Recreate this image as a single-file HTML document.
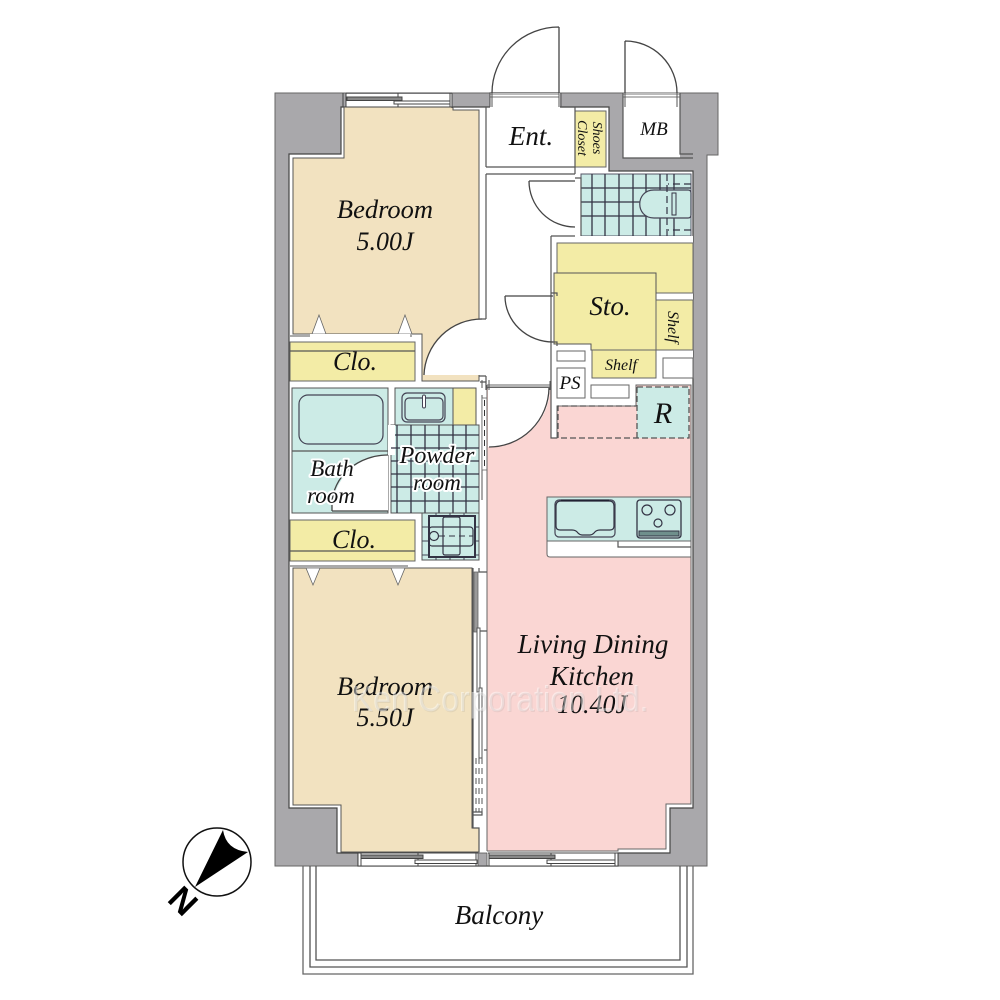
<!DOCTYPE html>
<html><head><meta charset="utf-8"><style>
html,body{margin:0;padding:0;background:#fff}
svg{display:block}
text{font-family:"Liberation Serif",serif;font-style:italic;fill:#111;text-anchor:middle}
.l{fill:none;stroke:#555;stroke-width:1.2}
.d{fill:none;stroke:#444;stroke-width:1.3}
.g{stroke:#334;stroke-width:1.3;fill:none}
.h{paint-order:stroke;stroke:#fff;stroke-width:4px;stroke-linejoin:round}
</style></head><body>
<svg width="1000" height="1000" viewBox="0 0 1000 1000" xmlns="http://www.w3.org/2000/svg">
<rect width="1000" height="1000" fill="#fff"/>

<!-- outer wall -->
<path d="M275 93H718V155H707V866H275Z" fill="#a9a8ab" stroke="#666" stroke-width="1"/>
<!-- interior white base -->
<path d="M289 154H341V107H490V93H559V107H609V171H693V808H670V853H618V866H358V853H337V808H289Z" fill="#fff" stroke="#444" stroke-width="1.2"/>
<!-- openings -->
<rect x="490" y="93" width="70" height="15" fill="#fff"/>
<rect x="623" y="93" width="57" height="65" fill="#fff"/>
<path d="M623 93V158H693M680 93V154H693" class="l"/>
<rect x="346" y="94" width="106" height="13" fill="#fff"/>
<rect x="358" y="853" width="120" height="13" fill="#fff"/>
<rect x="488" y="853" width="130" height="13" fill="#fff"/>

<!-- rooms -->
<path d="M293 158H344V107H453V110H479V381H422V334H293Z" fill="#f2e2c0" stroke="#555" stroke-width="1"/>
<path d="M293 568H472V828H479V852H341V805H293Z" fill="#f2e2c0" stroke="#555" stroke-width="1"/>
<path d="M487 388H551V438H557V406H636V385H691V804H666V849H618V851H487Z" fill="#fad6d3" stroke="#666" stroke-width="1"/>

<!-- bedroom door -->
<path d="M486 319H480A58 58 0 0 0 424 375H486Z" fill="#fff"/>
<path d="M482 319A58 58 0 0 0 424 375" class="d"/>
<path d="M479 319H486M479 376H486" class="l"/>

<!-- closets -->
<rect x="290" y="342" width="125" height="39" fill="#f3eca6" stroke="#666"/>
<path d="M290 351H415" class="l"/>
<path d="M290 336H412M290 566H408" stroke="#555" stroke-width="1" fill="none"/>
<rect x="290" y="520" width="125" height="41" fill="#f3eca6" stroke="#666"/>
<path d="M290 551H415" class="l"/>
<g fill="#fff" stroke="#666" stroke-width=".8">
<path d="M319 315L312 334H326Z"/><path d="M405 315L398 334H412Z"/>
<path d="M313 585L306 568H320Z"/><path d="M398 585L391 568H405Z"/>
</g>
<rect x="310" y="334" width="100" height="3" fill="#fff"/>

<!-- bathroom -->
<rect x="292" y="388" width="96" height="125" fill="#ccebe6" stroke="#555"/>
<path d="M292 451H388" class="l"/>
<rect x="299" y="395" width="84" height="49" rx="9" fill="#ccebe6" stroke="#445" stroke-width="1.2"/>
<path d="M332 510A56 56 0 0 1 388 455V511H332Z" fill="#fff"/>
<path d="M332 511V503A56 50 0 0 1 388 455M332 511H388" class="d"/>

<!-- powder -->
<rect x="395" y="388" width="58" height="37" fill="#ccebe6" stroke="#555"/>
<rect x="453" y="388" width="23" height="37" fill="#f3eca6" stroke="#555"/>
<rect x="402" y="393" width="43" height="29" rx="5" fill="none" stroke="#445" stroke-width="1.2"/>
<rect x="405" y="398" width="38" height="22" rx="4" fill="none" stroke="#445" stroke-width="1.2"/>
<rect x="422.500" y="395" width="3" height="13" rx="1.500" fill="#fff" stroke="#445"/>
<rect x="391" y="425" width="88" height="88" fill="#ccebe6" stroke="#555"/>
<rect x="388" y="425" width="7" height="30" fill="#fff"/>
<path d="M397 425V513M411 425V513M425 425V513M439 425V513M453 425V513M466 425V513M395 435H479M391 448H479M391 461H479M391 474H479M391 487H479M391 501H479" class="g"/>

<!-- washer -->
<rect x="422" y="513" width="57" height="47" fill="#ccebe6" stroke="#555"/>
<path d="M436 513V560M450 513V560M464 513V560M422 527H479M422 541H479M422 555H479" stroke="#445" stroke-width="1"/>
<rect x="429" y="516" width="46" height="41" fill="#ccebe6" stroke="#334" stroke-width="2"/>
<rect x="443" y="517" width="17" height="38" rx="2" fill="none" stroke="#334" stroke-width="1.200"/>
<rect x="429" y="527" width="44" height="19" rx="3" fill="none" stroke="#334" stroke-width="1.200"/>
<circle cx="434" cy="536" r="4.500" fill="none" stroke="#334" stroke-width="1.200"/>
<path d="M439 536H473" stroke="#334" stroke-dasharray="6 4"/>

<!-- sliding door strip by powder -->
<path d="M482 380V388M482 395V500" stroke="#555" stroke-width="1"/>
<rect x="482" y="398" width="5" height="72" fill="#fff" stroke="#666" stroke-width=".8"/>
<path d="M484.500 400V470" stroke="#333" stroke-dasharray="6 4"/>
<path d="M480 382H486V390" class="l"/>
<path d="M486 174V319M486 376V382M486 107V167M486 167H575M486 174H575" class="l"/>

<!-- Ent doors -->
<path d="M559 27A67 66 0 0 0 492 93M559 27V93" class="d"/>
<path d="M625 41A52 52 0 0 1 677 93M625 41V93" class="d"/>
<path d="M490 94H559M490 97H559M623 94H680M623 97H680" stroke="#777" stroke-width="1"/>
<path d="M490 93V107M492 93V107M559 93V107M561 107V93M623 93V107M625 93V107M677 93V107M680 93V107" stroke="#555" stroke-width="1"/>

<!-- shoes closet -->
<rect x="575" y="111" width="31" height="56" fill="#f3eca6" stroke="#666"/>
<path d="M561 107H575V174" class="l"/>

<!-- toilet -->
<rect x="581" y="174" width="110" height="62" fill="#ccebe6" stroke="#556"/>
<path d="M592 174V236M605 174V236M619 174V236M633 174V236M646 174V236M660 174V236M674 174V236M581 188H691M581 202H691M581 216H691" class="g"/>
<path d="M654 190H688Q691 190 691 193V215Q691 218 688 218H654C635 218 635 190 654 190Z" fill="#ccebe6" stroke="#445" stroke-width="1.200"/>
<path d="M667 174V236M691 184H668M691 230H668" stroke="#334" stroke-width="1.200" stroke-dasharray="7 4" fill="none"/>
<rect x="672" y="193" width="4" height="22" fill="#ccebe6" stroke="#334"/>
<path d="M575 178H581V238H575" class="l"/>
<path d="M529 181H575M529 181A46 46 0 0 0 575 227" class="d"/>

<!-- storage -->
<path d="M551 236H693V367H551Z" fill="#fff"/>
<path d="M551 236V438H557" class="l"/>
<path d="M551 236H575" class="l"/>
<path d="M557 243H693V293H656V273H557Z" fill="#f3eca6" stroke="#666"/>
<path d="M554 273H656V350H591V344H554Z" fill="#f3eca6" stroke="#555"/>
<path d="M656 300H693V350H656Z" fill="#f3eca6" stroke="#666"/>
<path d="M592 350H656V378H592Z" fill="#f3eca6" stroke="#666"/>
<path d="M505 296H553M505 296A48 46 0 0 0 553 342" class="d"/>
<path d="M551 293H557V296M551 342H557V346" class="l"/>

<!-- utility boxes -->
<g fill="#fff" stroke="#666">
<rect x="557" y="351" width="28" height="10"/>
<rect x="557" y="368" width="28" height="30"/>
<rect x="591" y="385" width="38" height="13"/>
<rect x="663" y="358" width="30" height="20"/>
</g>

<!-- R and dashed -->
<rect x="637" y="387" width="52" height="51" fill="#ccebe6"/>
<path d="M637 387H689V438H558V406H636" fill="none" stroke="#555" stroke-width="1.300" stroke-dasharray="6 3"/>
<path d="M637 387V438" stroke="#555" stroke-width="1.300" stroke-dasharray="6 3"/>

<!-- LDK door -->
<path d="M488 388H550V390A60 60 0 0 1 490 447H488Z" fill="#fff"/>
<path d="M487 385H550M487 387H550" stroke="#666" stroke-width="1"/>
<path d="M549 388A60 60 0 0 1 489 447" class="d"/>
<path d="M489 380V390M550 381V390M487 385V450" stroke="#555" stroke-width="1"/>

<!-- kitchen -->
<path d="M547 541H691V557H550Q547 557 547 554Z" fill="#fff" stroke="#666"/>
<path d="M618 541V547H691" class="l"/>
<rect x="547" y="497" width="144" height="44" fill="#ccebe6" stroke="#666"/>
<rect x="555" y="500" width="60" height="37" rx="4" fill="#ccebe6" stroke="#445" stroke-width="1.200"/>
<path d="M561 501H609Q614 501 614 506V526Q614 530 610 530H600Q596 530 594 533Q592 535 590 535H582Q580 535 578 533Q576 530 572 530H560Q556 530 556 526V506Q556 501 561 501Z" fill="none" stroke="#334" stroke-width="1.200"/>
<path d="M561 500.500H609" stroke="#223" stroke-width="2"/>
<rect x="637" y="500" width="44" height="38" rx="3" fill="#ccebe6" stroke="#334" stroke-width="1.300"/>
<circle cx="647" cy="510" r="5" fill="none" stroke="#334" stroke-width="1.200"/>
<circle cx="670" cy="510" r="5" fill="none" stroke="#334" stroke-width="1.200"/>
<circle cx="658" cy="523" r="4" fill="none" stroke="#334" stroke-width="1.200"/>
<rect x="639" y="531" width="40" height="5" fill="#6f8f8c" stroke="#334"/>

<!-- sliding partition between bedroom 2 and LDK -->
<rect x="473" y="568" width="14" height="260" fill="#fff"/>
<rect x="480" y="828" width="7" height="24" fill="#fff"/>
<path d="M487 388V851" stroke="#666" stroke-width="1"/>
<path d="M473 568V828H479V852M479 568V572H487M473 631H487" class="l"/>
<rect x="474" y="572" width="4" height="60" fill="#999" stroke="#666" stroke-width=".8"/>
<rect x="477" y="628" width="3" height="64" fill="#fff" stroke="#555" stroke-width="1"/>
<rect x="479" y="688" width="3" height="70" fill="#fff" stroke="#555" stroke-width="1"/>
<path d="M476 758V812M479 758V812M482 758V812" stroke="#555" stroke-width="1" stroke-dasharray="6 4"/>
<path d="M473 815H482V812H473" class="l"/>
<path d="M484 750H487" class="l"/>
<rect x="478" y="853" width="9" height="13" fill="#a9a8ab" stroke="#555" stroke-width=".8"/>

<!-- top window -->
<g stroke="#444" stroke-width="1">
<path d="M346 93V107M343 93V107M450 93V107M452 93V108M398 93V107" fill="none"/>
<path d="M346 93H452M346 107H452" fill="none"/>
<rect x="347" y="97" width="55" height="3.500" fill="#888"/>
<rect x="394" y="101" width="56" height="3" fill="#fff"/>
</g>
<!-- bottom windows -->
<g stroke="#444" stroke-width="1" fill="none">
<path d="M358 853V866M361 853V866M418 853V866M476 853V866M358 866H618M358 853H478M488 853H618"/>
<rect x="361" y="855" width="62" height="3.500" fill="#888"/>
<rect x="415" y="860" width="62" height="3.500" fill="#fff"/>
<path d="M489 853V866M551 853V866M615 853V866M618 853V866"/>
<rect x="489" y="855" width="66" height="3.500" fill="#888"/>
<rect x="547" y="860" width="68" height="3.500" fill="#fff"/>
</g>

<!-- balcony -->
<path d="M303 866V974H693V866" fill="none" stroke="#666" stroke-width="1.300"/>
<path d="M310 866V967H687V866" fill="none" stroke="#555" stroke-width="1.300"/>
<path d="M316 866V960H680V866" fill="none" stroke="#555" stroke-width="1.300"/>

<!-- compass -->
<circle cx="217" cy="862" r="34" fill="#fff" stroke="#111" stroke-width="1.500"/>
<path d="M195 887L223 830Q226 850 248 852Z" fill="#000"/>
<text x="0" y="0" transform="translate(183 901) rotate(45)" font-size="34" dy="11.500" style="font-family:'Liberation Sans',sans-serif;font-style:normal;font-weight:700;fill:#000">N</text>

<!-- labels -->
<text x="385" y="218" font-size="26.500">Bedroom</text>
<text x="385" y="250" font-size="26">5.00J</text>
<text x="385" y="695" font-size="26.500">Bedroom</text>
<text x="385" y="726" font-size="26">5.50J</text>
<text x="355" y="370" font-size="26">Clo.</text>
<text x="354" y="548" font-size="26">Clo.</text>
<text x="531" y="145" font-size="27">Ent.</text>
<text x="654" y="135" font-size="19">MB</text>
<text x="610" y="315" font-size="27">Sto.</text>
<text x="621" y="370" font-size="16">Shelf</text>
<text x="570" y="389" font-size="19">PS</text>
<text x="663" y="423" font-size="30">R</text>
<text transform="translate(668 327) rotate(90)" font-size="16">Shelf</text>
<text transform="translate(593 138) rotate(90)" font-size="14">Shoes</text>
<text transform="translate(578 138) rotate(90)" font-size="14">Closet</text>
<text x="332" y="476" font-size="23" class="h">Bath</text>
<text x="331" y="503" font-size="23" class="h">room</text>
<text x="437" y="463" font-size="24" class="h">Powder</text>
<text x="437" y="490" font-size="23" class="h">room</text>
<text x="593" y="653" font-size="27">Living Dining</text>
<text x="592" y="685" font-size="27">Kitchen</text>
<text x="592" y="713" font-size="26">10.40J</text>
<text x="499" y="924" font-size="27">Balcony</text>

<!-- watermark -->
<text x="500" y="711" font-size="36" textLength="297" lengthAdjust="spacingAndGlyphs" style="font-family:'Liberation Sans',sans-serif;font-style:normal;fill:#fff;opacity:.45">Ken Corporation Ltd.</text>
<text x="501" y="712" font-size="36" textLength="297" lengthAdjust="spacingAndGlyphs" style="font-family:'Liberation Sans',sans-serif;font-style:normal;fill:#777;opacity:.12">Ken Corporation Ltd.</text>
</svg>
</body></html>
